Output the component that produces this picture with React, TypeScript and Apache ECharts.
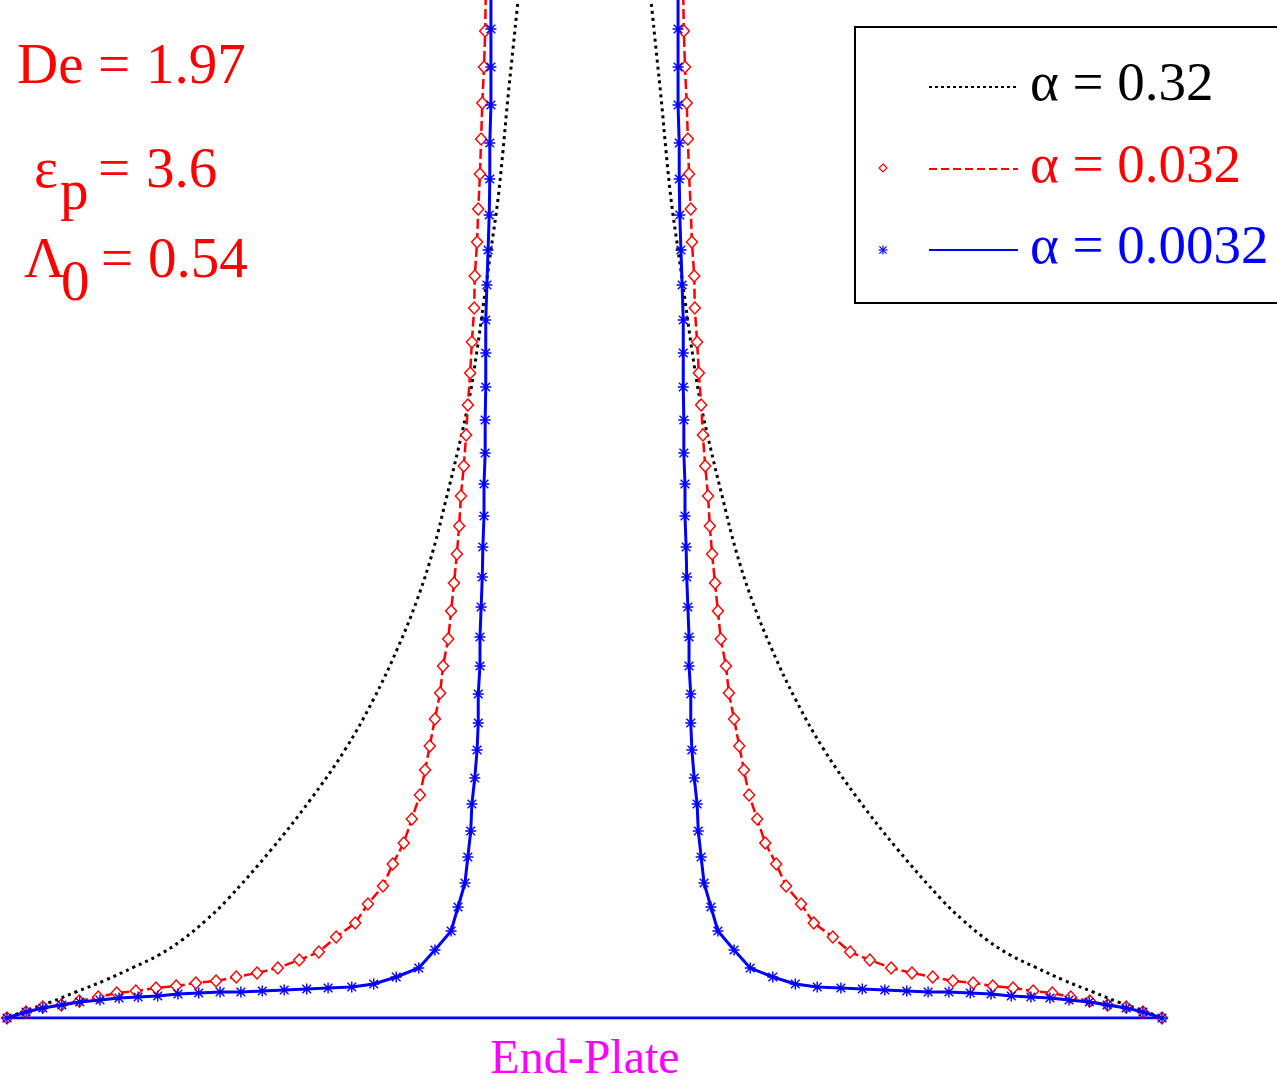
import React, { useEffect, useRef } from "react";
import * as echarts from "echarts";

// Right-hand branch of each profile (radius r, axial position z); the left branch is its mirror image.
const blueR = [0.162, 0.162, 0.162, 0.162, 0.164, 0.164, 0.165, 0.167, 0.169, 0.171, 0.171, 0.171, 0.172, 0.172, 0.174, 0.174, 0.176, 0.177, 0.179, 0.181, 0.181, 0.184, 0.184, 0.186, 0.190, 0.195, 0.197, 0.202, 0.207, 0.219, 0.231, 0.259, 0.287, 0.326, 0.365, 0.403, 0.444, 0.481, 0.520, 0.558, 0.595, 0.631, 0.668, 0.704, 0.739, 0.773, 0.806, 0.839, 0.874, 0.905, 0.938, 0.967, 1.0];
const blueZ = [10.27, 9.89, 9.51, 9.13, 8.75, 8.39, 8.03, 7.68, 7.33, 6.98, 6.65, 6.31, 5.98, 5.65, 5.34, 5.02, 4.71, 4.41, 4.11, 3.81, 3.52, 3.24, 2.95, 2.68, 2.40, 2.14, 1.87, 1.61, 1.35, 1.11, 0.87, 0.68, 0.50, 0.41, 0.34, 0.31, 0.30, 0.29, 0.28, 0.27, 0.26, 0.26, 0.25, 0.24, 0.22, 0.21, 0.20, 0.18, 0.16, 0.13, 0.10, 0.06, 0];

const redR = [0.171, 0.172, 0.174, 0.177, 0.179, 0.181, 0.184, 0.186, 0.190, 0.191, 0.195, 0.198, 0.202, 0.205, 0.209, 0.214, 0.217, 0.221, 0.226, 0.231, 0.236, 0.245, 0.250, 0.259, 0.268, 0.276, 0.285, 0.299, 0.313, 0.332, 0.349, 0.375, 0.397, 0.430, 0.460, 0.494, 0.531, 0.567, 0.603, 0.638, 0.673, 0.707, 0.742, 0.777, 0.810, 0.842, 0.875, 0.906, 0.938, 0.967, 1.0];
const redZ = [10.23, 9.87, 9.51, 9.15, 8.79, 8.44, 8.09, 7.76, 7.42, 7.10, 6.76, 6.45, 6.13, 5.83, 5.52, 5.22, 4.92, 4.64, 4.35, 4.07, 3.79, 3.52, 3.25, 2.99, 2.72, 2.48, 2.23, 1.99, 1.75, 1.54, 1.32, 1.14, 0.95, 0.81, 0.66, 0.58, 0.50, 0.45, 0.41, 0.37, 0.35, 0.32, 0.30, 0.27, 0.25, 0.21, 0.17, 0.13, 0.11, 0.06, 0];

const blackR = [0.113, 0.115, 0.124, 0.133, 0.141, 0.150, 0.162, 0.174, 0.186, 0.200, 0.219, 0.240, 0.262, 0.290, 0.325, 0.366, 0.415, 0.475, 0.543, 0.619, 0.655, 0.697, 0.737, 0.780, 0.829, 0.881, 0.924, 0.974, 1.0];
const blackZ = [10.28, 10.18, 9.68, 9.18, 8.68, 8.18, 7.68, 7.18, 6.68, 6.18, 5.68, 5.18, 4.68, 4.18, 3.68, 3.18, 2.68, 2.18, 1.68, 1.18, 0.98, 0.78, 0.63, 0.51, 0.38, 0.26, 0.16, 0.06, 0];

const plateR = [-1, 1];
const plateZ = [0, 0];

const legendLabels = ["α = 0.32", "α = 0.032", "α = 0.0032"];
const bottomLabel = "End-Plate";

const SERIF = "'Liberation Serif', 'Times New Roman', serif";
const RED = "#ff0000";
const BLUE = "#0000ff";
const BLACK = "#000000";
const MAGENTA = "#ff00ff";

const ASTERISK =
  "path://M4.35 0H5.65V10H4.35Z M0 4.35H10V5.65H0Z M1.5 0.6L9.4 8.5L8.5 9.4L0.6 1.5Z M8.5 0.6L9.4 1.5L1.5 9.4L0.6 8.5Z";

function branch(r: number[], z: number[], side: number) {
  return r.map((v, i) => [side * v, z[i]]);
}

const FS = 55;
const AFS = 57;
const CENTRAL = 0.3375;

function txt(text: string, x: number, baseline: number, size: number, color: string, align = "left") {
  return {
    type: "text",
    x,
    y: baseline - CENTRAL * size,
    silent: true,
    style: {
      text,
      fill: color,
      font: `${size}px ${SERIF}`,
      textAlign: align,
      textVerticalAlign: "middle",
      verticalAlign: "middle",
    },
  };
}

export default function App() {
  const ref = useRef<HTMLDivElement>(null);

  useEffect(() => {
    if (!ref.current) return;
    const chart = echarts.init(ref.current, null, { renderer: "svg" });

    const blackStyle = { color: BLACK, width: 3, type: [3, 4] as any };
    const redLine = { color: RED, width: 2.5, type: [10, 4] as any };
    const blueLine = { color: BLUE, width: 3, type: "solid" as any };

    const blackSeries = (side: number) => ({
      type: "line",
      data: branch(blackR, blackZ, side),
      showSymbol: false,
      symbol: "none",
      smooth: 0.4,
      lineStyle: blackStyle,
      silent: true,
      z: 2,
    });
    const redSeries = (side: number) => ({
      type: "line",
      data: branch(redR, redZ, side),
      symbol: "diamond",
      symbolSize: [11, 12],
      showAllSymbol: true,
      itemStyle: { color: "#ffffff", borderColor: RED, borderWidth: 1.5 },
      lineStyle: redLine,
      silent: true,
      z: 3,
    });
    const blueSeries = (side: number) => ({
      type: "line",
      data: branch(blueR, blueZ, side),
      symbol: ASTERISK,
      symbolSize: 11,
      showAllSymbol: true,
      itemStyle: { color: BLUE, borderWidth: 0 },
      lineStyle: blueLine,
      silent: true,
      z: 4,
    });

    const graphics: any[] = [];
    // parameter annotations (pieces placed individually)
    graphics.push(txt("De", 17, 83, AFS, RED));
    graphics.push(txt("=", 98, 83, AFS, RED));
    graphics.push(txt("1.97", 146, 83, AFS, RED));

    graphics.push(txt("ε", 34, 187, AFS, RED));
    graphics.push(txt("p", 60, 209, AFS, RED));
    graphics.push(txt("=", 98, 187, AFS, RED));
    graphics.push(txt("3.6", 146, 187, AFS, RED));

    graphics.push(txt("Λ", 24, 277, AFS, RED));
    graphics.push(txt("0", 61, 300, AFS, RED));
    graphics.push(txt("=", 101, 277, AFS, RED));
    graphics.push(txt("0.54", 148, 277, AFS, RED));

    // bottom label
    graphics.push(txt(bottomLabel, 585, 1073, 48, MAGENTA, "center"));

    // legend box
    graphics.push({
      type: "rect",
      shape: { x: 855, y: 27, width: 424, height: 276 },
      style: { fill: "#ffffff", stroke: BLACK, lineWidth: 2 },
      silent: true,
      z: 10,
    });
    const rows = [
      { y: 87, base: 100, color: BLACK, dash: [3, 3], width: 2 },
      { y: 169, base: 182, color: RED, dash: [8, 4], width: 2 },
      { y: 250, base: 263, color: BLUE, dash: null, width: 2 },
    ];
    rows.forEach((row, i) => {
      graphics.push({
        type: "line",
        shape: { x1: 929, y1: row.y, x2: 1018, y2: row.y },
        style: { stroke: row.color, lineWidth: row.width, lineDash: row.dash || undefined },
        silent: true,
        z: 11,
      });
      const t: any = txt(legendLabels[i], 1030, row.base, FS, row.color);
      t.z = 11;
      graphics.push(t);
    });
    // legend markers
    graphics.push({
      type: "polygon",
      shape: { points: [[883, 164], [887, 168], [883, 172], [879, 168]] },
      style: { fill: "#ffffff", stroke: RED, lineWidth: 1.2 },
      silent: true,
      z: 11,
    });
    const ax = 883, ay = 250, s = 4.5;
    [
      [ax - s, ay, ax + s, ay],
      [ax, ay - s, ax, ay + s],
      [ax - s * 0.8, ay - s * 0.8, ax + s * 0.8, ay + s * 0.8],
      [ax - s * 0.8, ay + s * 0.8, ax + s * 0.8, ay - s * 0.8],
    ].forEach((l) => {
      graphics.push({
        type: "line",
        shape: { x1: l[0], y1: l[1], x2: l[2], y2: l[3] },
        style: { stroke: BLUE, lineWidth: 1.2 },
        silent: true,
        z: 11,
      });
    });

    chart.setOption({
      animation: false,
      backgroundColor: "#ffffff",
      grid: { left: 7, right: 115, top: 0, bottom: 65, containLabel: false },
      xAxis: {
        type: "value",
        min: -1,
        max: 1,
        show: false,
        splitLine: { show: false },
      },
      yAxis: {
        type: "value",
        min: 0,
        max: 10.18,
        show: false,
        splitLine: { show: false },
      },
      series: [
        {
          type: "line",
          data: branch(plateR, plateZ, 1),
          showSymbol: false,
          symbol: "none",
          lineStyle: { color: BLUE, width: 3 },
          silent: true,
          z: 1,
        },
        blackSeries(-1),
        blackSeries(1),
        redSeries(-1),
        redSeries(1),
        blueSeries(-1),
        blueSeries(1),
      ],
      graphic: { elements: graphics },
    } as any);

    return () => chart.dispose();
  }, []);

  return (
    <div
      ref={ref}
      style={{ position: "absolute", left: 0, top: 0, width: 1277, height: 1083 }}
    />
  );
}
